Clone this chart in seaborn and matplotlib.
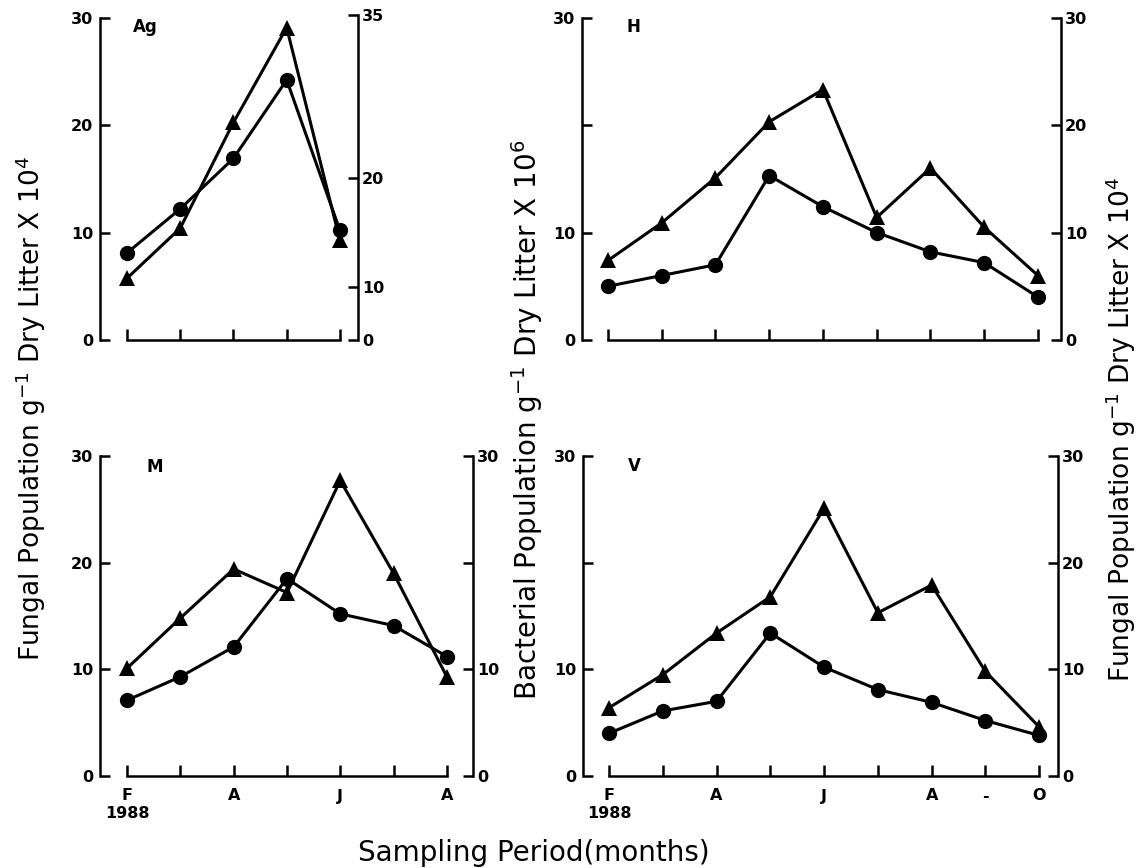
import numpy as np
import matplotlib
matplotlib.use('Agg')
from matplotlib import pyplot as plt
import seaborn as sns

# values: circles = bacteria (left axis), triangles = fungi (right axis)
ag_bact = [8.1, 12.2, 16.9, 24.2, 10.2]
ag_fung = [10.8, 15.4, 25.1, 33.8, 14.3]
h_bact = [5.0, 6.0, 7.0, 15.3, 12.4, 10.0, 8.2, 7.2, 4.0]
h_fung = [7.4, 10.9, 15.1, 20.3, 23.3, 11.4, 16.0, 10.5, 6.0]
m_bact = [7.1, 9.3, 12.1, 18.5, 15.2, 14.1, 11.2]
m_fung = [10.1, 14.8, 19.4, 17.2, 27.7, 19.0, 9.3]
v_bact = [4.0, 6.1, 7.0, 13.4, 10.2, 8.1, 6.9, 5.2, 3.8]
v_fung = [6.4, 9.5, 13.4, 16.8, 25.1, 15.3, 17.9, 9.8, 4.6]

m_months = ['F\n1988', '', 'A', '', 'J', '', 'A']
v_months = ['F\n1988', '', 'A', '', 'J', '', 'A', '-', 'O']

sns.set_style('ticks')
plt.rcParams['font.family'] = ['DejaVu Sans']
for k in ['text.color', 'axes.edgecolor', 'xtick.color', 'ytick.color', 'axes.labelcolor']:
    plt.rcParams[k] = 'black'

W, H = 1138, 868
fig = plt.figure(figsize=(W/100, H/100), dpi=100)

def box(l, r, t, b):
    return [l/W, 1-b/H, (r-l)/W, (b-t)/H]

LW = 2.2
TS = 11.5

def panel(rect, bact, fung, xlim, ylim_l, ylim_r, lticks, llabels, rticks, rlabels, xlabels=None):
    ax = fig.add_axes(rect)
    ax2 = ax.twinx()
    x = np.arange(len(bact))
    sns.lineplot(x=x, y=bact, ax=ax, color='black', linewidth=LW, marker='o',
                 markersize=11, markeredgewidth=0)
    sns.lineplot(x=x, y=fung, ax=ax2, color='black', linewidth=LW, marker='^',
                 markersize=12, markeredgewidth=0)
    ax.set_xlim(*xlim)
    ax.set_ylim(*ylim_l)
    ax2.set_ylim(*ylim_r)
    for s in ['top', 'right']:
        ax.spines[s].set_visible(False)
    for s in ['top', 'left', 'bottom']:
        ax2.spines[s].set_visible(False)
    for sp in [ax.spines['left'], ax.spines['bottom'], ax2.spines['right']]:
        sp.set_linewidth(1.8)
    ax.spines['left'].set_bounds(0, lticks[-1])
    ax2.spines['right'].set_bounds(rticks[0], rticks[-1])
    ax.spines['bottom'].set_bounds(0, len(bact)-1)
    ax.set_xticks(x)
    if xlabels is None:
        ax.set_xticklabels([''] * len(x))
    else:
        ax.set_xticklabels(xlabels, fontweight='bold', fontsize=TS)
    ax.set_yticks(lticks)
    ax.set_yticklabels(llabels, fontweight='bold', fontsize=TS)
    ax2.set_yticks(rticks)
    ax2.set_yticklabels(rlabels, fontweight='bold', fontsize=TS)
    ax.tick_params(axis='x', direction='in', length=8, width=1.8, pad=9)
    ax.tick_params(axis='y', direction='in', length=7, width=1.8, pad=5)
    ax2.tick_params(axis='y', direction='in', length=7, width=1.8, pad=3)
    ax.set_xlabel('')
    ax.set_ylabel('')
    ax2.set_ylabel('')
    return ax, ax2

# Ag: right axis is broken, its bottom tick carries the label 0
ag_r0 = 10 - 53/10.9
panel(box(100, 358, 14, 340), ag_bact, ag_fung, (-0.507, 4.34), (0, 30.33), (ag_r0, 35.05),
      [0, 10, 20, 30], ['0', '10', '20', '30'], [ag_r0, 10, 20, 35], ['0', '10', '20', '35'])
panel(box(582, 1061, 14, 340), h_bact, h_fung, (-0.484, 8.43), (0, 30.33), (0, 30.33),
      [0, 10, 20, 30], ['0', '10', '', '30'], [0, 10, 20, 30], ['0', '10', '20', '30'])
panel(box(100, 473, 452, 776), m_bact, m_fung, (-0.507, 6.49), (0, 30.37), (0, 30.37),
      [0, 10, 20, 30], ['0', '10', '20', '30'], [0, 10, 20, 30], ['0', '10', '', '30'], m_months)
panel(box(583, 1058, 452, 776), v_bact, v_fung, (-0.484, 8.35), (0, 30.37), (0, 30.37),
      [0, 10, 20, 30], ['0', '10', '', '30'], [0, 10, 20, 30], ['0', '10', '20', '30'], v_months)

def ftext(x, y, s, **kw):
    fig.text(x/W, 1-y/H, s, **kw)

for px, py, s in [(133, 27, 'Ag'), (627, 27, 'H'), (147, 467, 'M'), (628, 466, 'V')]:
    ftext(px, py, s, fontsize=12, fontweight='bold', va='center', ha='left')

fung_lab = r'Fungal Population g$^{\mathregular{-1}}$ Dry Litter X 10$^{\mathregular{4}}$'
bact_lab = r'Bacterial Population g$^{\mathregular{-1}}$ Dry Litter X 10$^{\mathregular{6}}$'
ftext(31, 409, fung_lab, rotation=90, fontsize=19, ha='center', va='center')
ftext(527, 420, bact_lab, rotation=90, fontsize=20, ha='center', va='center')
ftext(1121, 430, fung_lab, rotation=90, fontsize=19, ha='center', va='center')
ftext(534, 853, 'Sampling Period(months)', fontsize=20, ha='center', va='center')

fig.savefig('out.png', dpi=100)
